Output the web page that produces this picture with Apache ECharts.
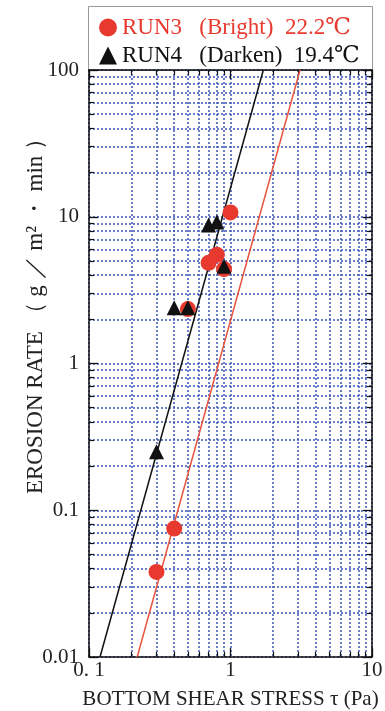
<!DOCTYPE html>
<html>
<head>
<meta charset="utf-8">
<script src="https://cdn.jsdelivr.net/npm/echarts@6/dist/echarts.min.js"></script>
<style>
html,body{margin:0;padding:0;background:#fff;}
#c{width:385px;height:711px;}
</style>
</head>
<body>
<div id="c"></div>
<script>
// ---- data ----
var run3Name = 'RUN3   (Bright)  22.2℃';
var run4Name = 'RUN4   (Darken)  19.4℃';
var run3X = [0.3, 0.4, 0.5, 0.7, 0.8, 0.9, 1.0];
var run3Y = [0.038, 0.075, 2.35, 4.85, 5.5, 4.4, 10.7];
var run4X = [0.3, 0.4, 0.5, 0.7, 0.8, 0.9];
var run4Y = [0.25, 2.4, 2.4, 8.8, 9.2, 4.6];
// fitted lines (end points at axis limits)
var fit3X = [0.219, 3.10];
var fit3Y = [0.01, 100];
var fit4X = [0.1196, 1.706];
var fit4Y = [0.01, 100];
var xTickLabels = {0.1: '0. 1', 1: '1', 10: '10'};
var yTickLabels = {0.01: '0.01', 0.1: '0.1', 1: '1', 10: '10', 100: '100'};

function pairs(xs, ys) { return xs.map(function (x, i) { return [x, ys[i]]; }); }

var serif = '"Liberation Serif","DejaVu Serif",serif';
var gridBlue = '#3a55b5';
var red = '#e8392e';

var chart = echarts.init(document.getElementById('c'), null, {renderer: 'canvas'});

function fmt(labels) {
  return function (v) { var k = +(+v).toPrecision(3); return labels[k] !== undefined ? labels[k] : ''; };
}

function logAxis(pos, min, max, showLabels, labels, extra) {
  var a = {
    type: 'log', logBase: 10, min: min, max: max, position: pos,
    axisLine: {show: true, onZero: false, lineStyle: {color: '#111', width: 1.5}},
    axisTick: {show: true, inside: true, length: 9, lineStyle: {color: '#111', width: 1.3}},
    minorTick: {show: true, splitNumber: 9, length: 5, lineStyle: {color: '#111', width: 1.2}},
    axisLabel: {show: showLabels, fontFamily: serif, fontSize: 21, color: '#222', formatter: fmt(labels)},
    splitLine: {show: showLabels, lineStyle: {color: gridBlue, type: [2, 2], width: 1.5}},
    minorSplitLine: {show: showLabels, lineStyle: {color: gridBlue, type: [2, 2], width: 1.5}}
  };
  for (var k in extra) a[k] = extra[k];
  return a;
}

var option = {
  backgroundColor: '#fff',
  animation: false,
  graphic: [{
    type: 'rect', left: 88, top: 6, z: 0,
    shape: {width: 284, height: 64},
    style: {fill: '#fff', stroke: '#999', lineWidth: 1}
  }],
  grid: {left: 89, right: 13, top: 70, bottom: 54, containLabel: false, outerBoundsMode: 'none'},
  legend: {
    show: true, orient: 'vertical', left: 99, top: 16,
    padding: 0, itemGap: 5,
    itemWidth: 18, itemHeight: 18,
    textStyle: {fontFamily: serif, fontSize: 23, lineHeight: 22},
    data: [
      {name: run3Name, icon: 'circle', textStyle: {color: red}},
      {name: run4Name, icon: 'triangle', textStyle: {color: '#111'}}
    ]
  },
  xAxis: [
    logAxis('bottom', 0.1, 10, true, xTickLabels, {
      name: 'BOTTOM SHEAR STRESS τ (Pa)', nameLocation: 'middle', nameGap: 32,
      nameTextStyle: {fontFamily: serif, fontSize: 21, color: '#222'},
      axisLabel: {show: true, fontFamily: serif, fontSize: 21, color: '#222', margin: 3, formatter: fmt(xTickLabels)}
    }),
    logAxis('top', 0.1, 10, false, xTickLabels, {})
  ],
  yAxis: [
    logAxis('left', 0.01, 100, true, yTickLabels, {
      name: 'EROSION RATE （ g ／ m² ・ min ）', nameLocation: 'middle', nameGap: 42, nameRotate: 90,
      nameMoveOverlap: false,
      nameTextStyle: {fontFamily: serif, fontSize: 23, color: '#222', padding: [0, 0, 0, 106]},
      axisLabel: {show: true, fontFamily: serif, fontSize: 21, color: '#222', margin: 10, formatter: fmt(yTickLabels)}
    }),
    logAxis('right', 0.01, 100, false, yTickLabels, {})
  ],
  series: [
    {type: 'line', name: 'fit3', data: pairs(fit3X, fit3Y), showSymbol: false, symbol: 'none',
      lineStyle: {color: '#e8553f', width: 1.5}, z: 3, silent: true},
    {type: 'line', name: 'fit4', data: pairs(fit4X, fit4Y), showSymbol: false, symbol: 'none',
      lineStyle: {color: '#111', width: 1.5}, z: 3, silent: true},
    {type: 'scatter', name: run3Name, data: pairs(run3X, run3Y), symbol: 'circle', symbolSize: 16,
      itemStyle: {color: red, opacity: 1}, z: 4},
    {type: 'scatter', name: run4Name, data: pairs(run4X, run4Y), symbol: 'triangle', symbolSize: 15,
      itemStyle: {color: '#111', opacity: 1}, z: 5}
  ]
};
chart.setOption(option);
</script>
</body>
</html>
